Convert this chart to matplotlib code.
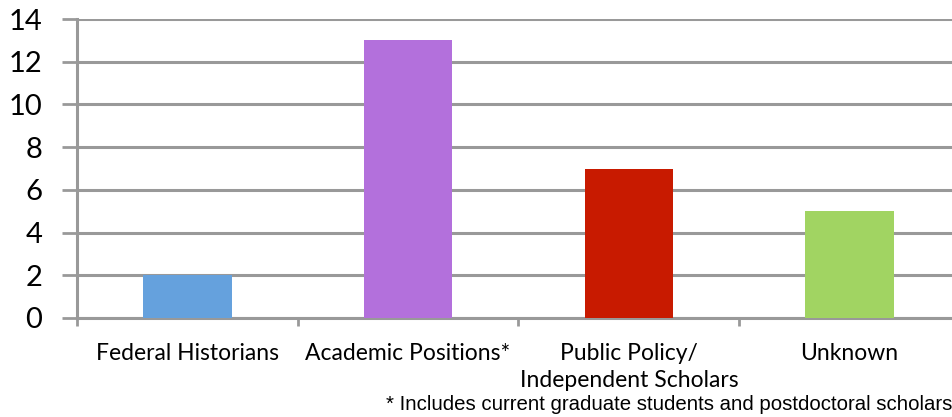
import matplotlib.pyplot as plt
import numpy as np

# chart data
categories = ["Federal Historians", "Academic Positions*", "Public Policy/\nIndependent Scholars", "Unknown"]
counts = [2, 13, 7, 5]
bar_colors = ["#65A1DD", "#B370DC", "#C81A00", "#A1D462"]
y_ticks = [0, 2, 4, 6, 8, 10, 12, 14]
footnote = "* Includes current graduate students and postdoctoral scholars"

grid_color = "#999999"

fig = plt.figure(figsize=(9.53, 4.17), dpi=100)
# axes runs slightly past the right edge, like the original export
ax = fig.add_axes([77 / 953, (417 - 318) / 417, 883 / 953, 299 / 417])

x = np.arange(len(categories))
ax.bar(x, counts, width=0.4, color=bar_colors, zorder=3)

ax.set_xlim(-0.5, len(categories) - 0.5)
ax.set_ylim(0, 14)
ax.set_yticks(y_ticks)
ax.set_yticklabels([str(v) for v in y_ticks], fontsize=21, family="Lato")
ax.yaxis.grid(True, color=grid_color, linewidth=2.2, zorder=0)

# category boundaries as ticks, labels centred in between
ax.set_xticks(np.arange(len(categories) + 1) - 0.5)
ax.set_xticklabels([])
ax.set_xticks(x, minor=True)
ax.set_xticklabels(categories, minor=True, fontsize=16.5, family="Lato", linespacing=1.35)
ax.tick_params(axis="x", which="minor", length=0, pad=18)
ax.tick_params(axis="x", which="major", length=6, width=2, color=grid_color)
ax.tick_params(axis="y", length=11, width=2, color=grid_color, pad=14)

for side in ["top", "right"]:
    ax.spines[side].set_visible(False)
for side in ["left", "bottom"]:
    ax.spines[side].set_color(grid_color)
    ax.spines[side].set_linewidth(2.2)

fig.text(952 / 953, 1 - 405 / 417, footnote, ha="right", va="center",
         fontsize=14.7, family="Liberation Sans")

plt.savefig("out.png", dpi=100)
